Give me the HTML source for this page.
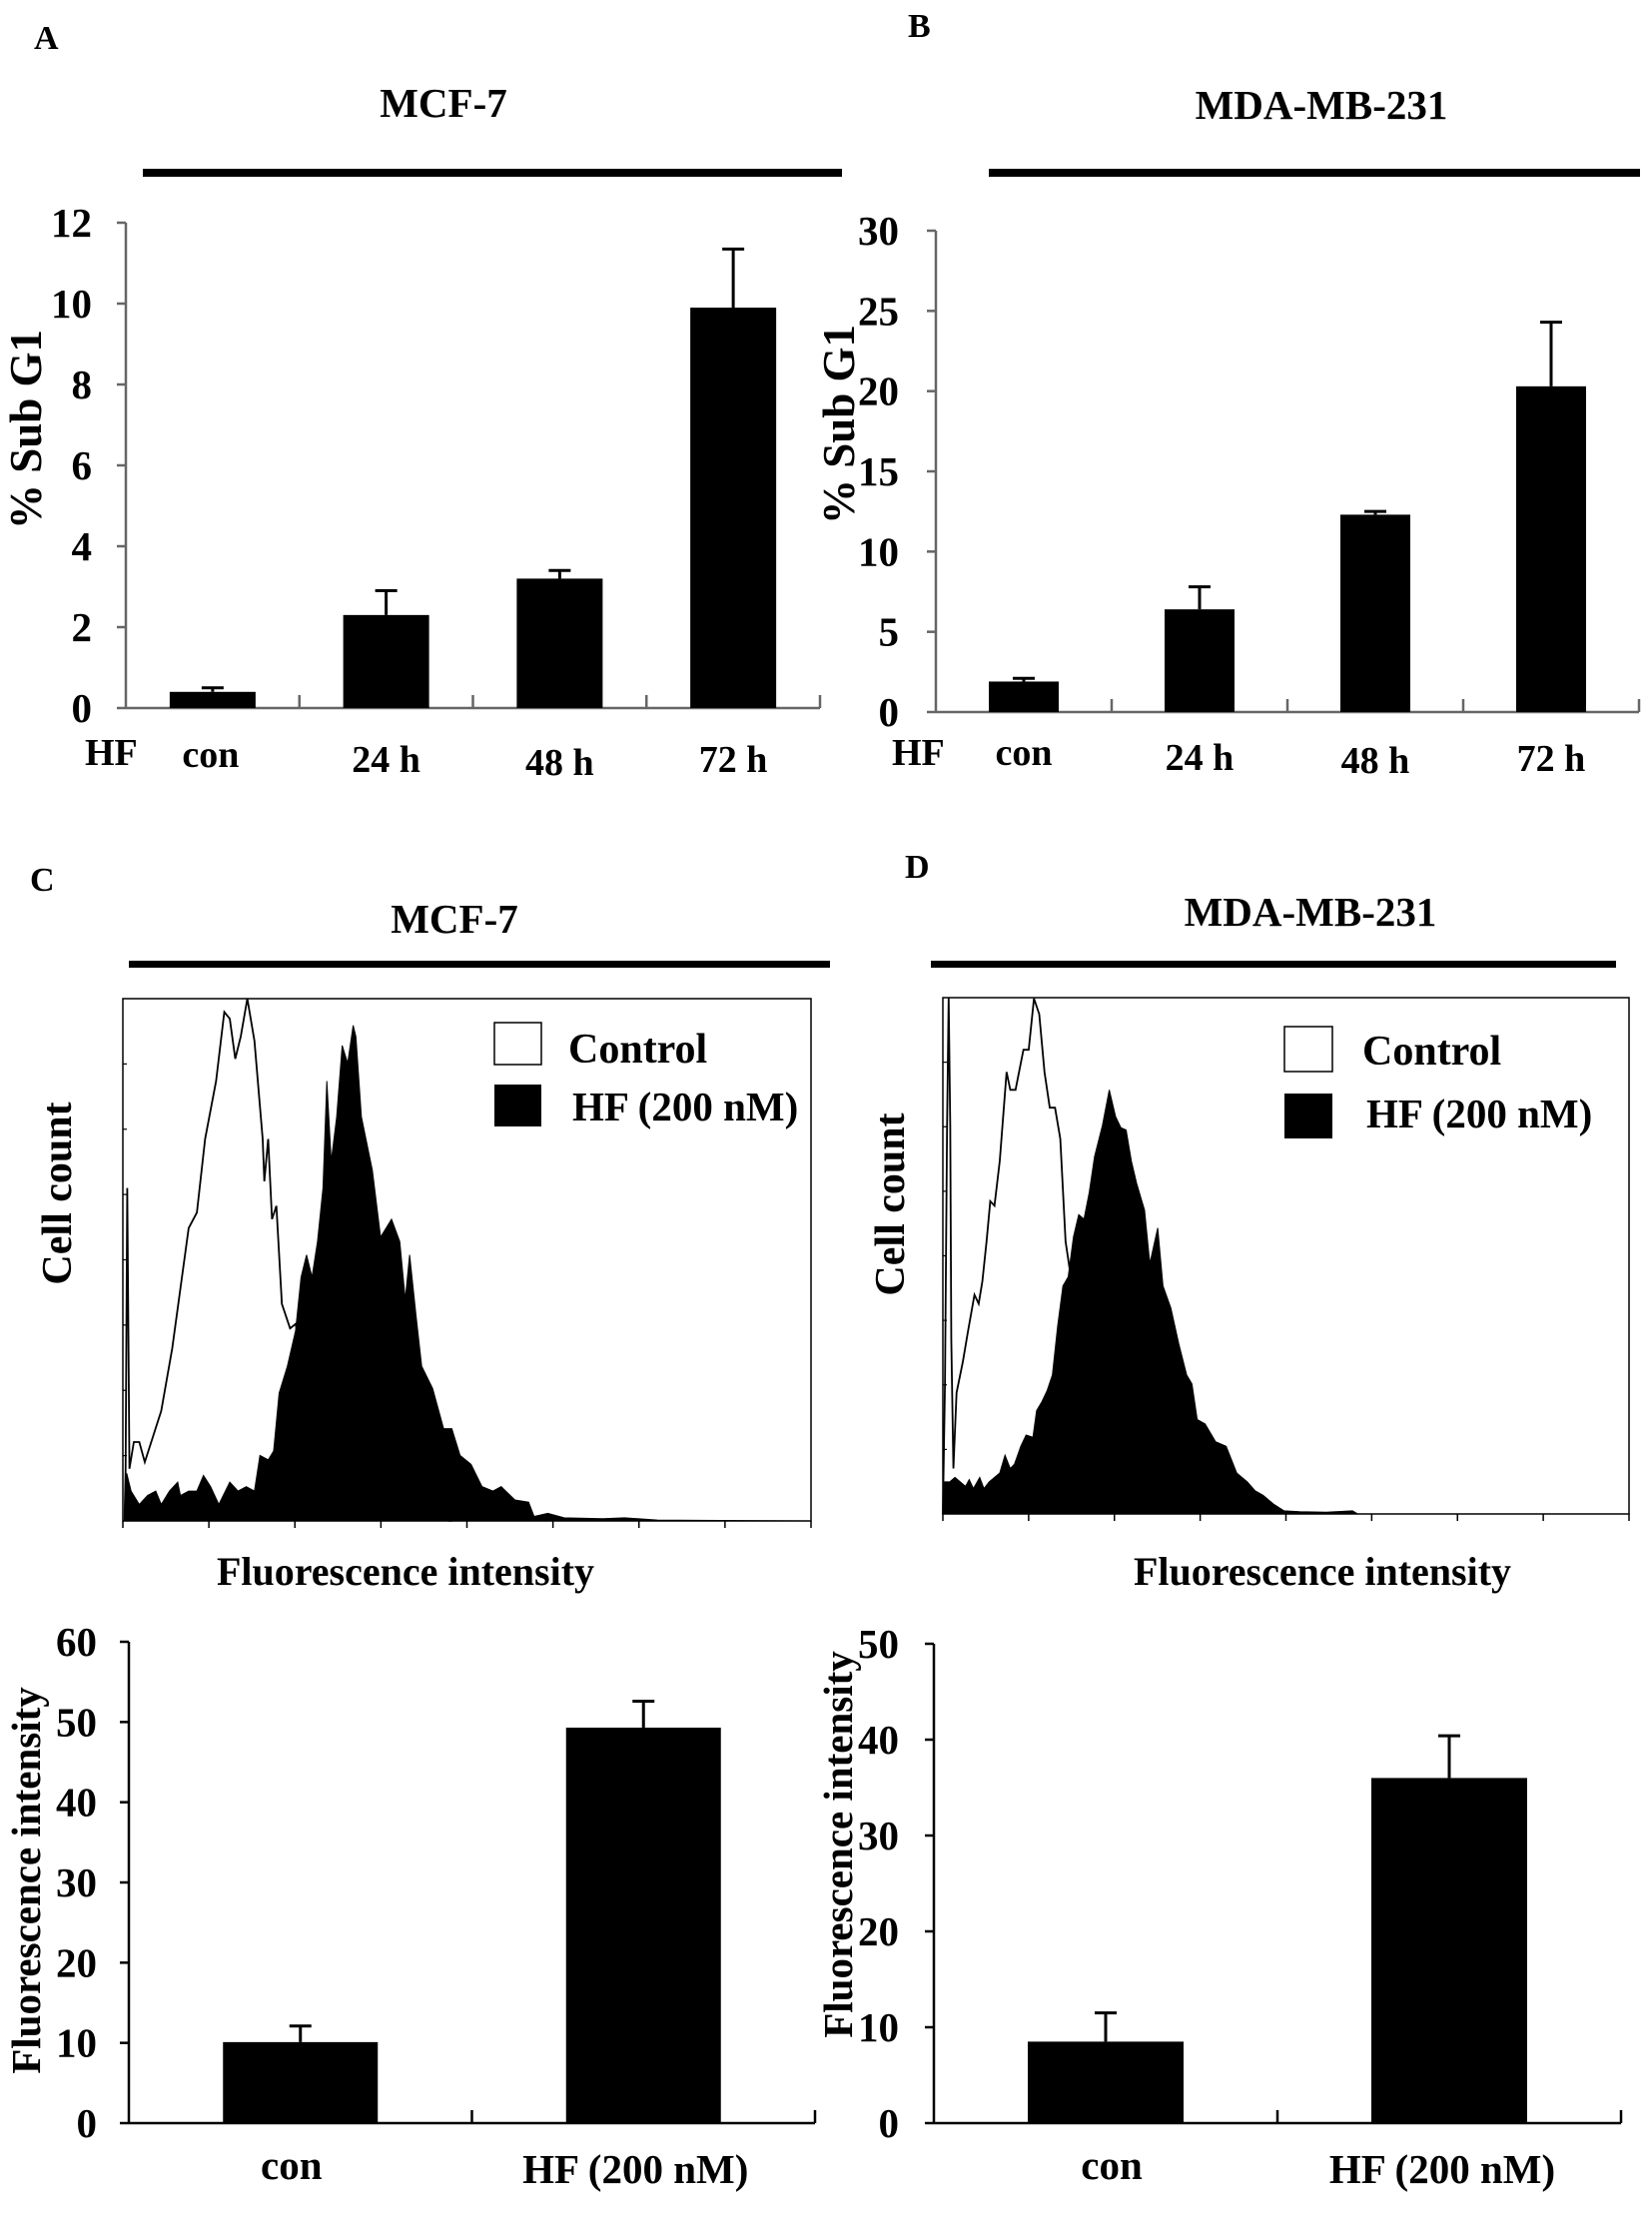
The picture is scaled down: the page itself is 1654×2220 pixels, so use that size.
<!DOCTYPE html>
<html><head><meta charset="utf-8"><style>
html,body{margin:0;padding:0;background:#fff;}
svg{display:block;font-family:"Liberation Serif",serif;font-weight:bold;}
</style></head><body>
<svg id="fig" width="1654" height="2220" viewBox="0 0 1654 2220" xmlns="http://www.w3.org/2000/svg">
<rect x="0" y="0" width="1654" height="2220" fill="#fff"/>
<text x="34" y="49" font-size="34">A</text>
<text x="909" y="37" font-size="34">B</text>
<text x="30" y="892" font-size="34">C</text>
<text x="906" y="879" font-size="34">D</text>
<text x="444" y="117" font-size="41" text-anchor="middle">MCF-7</text>
<rect x="143" y="169" width="700" height="8" fill="#000"/>
<text x="1323" y="119" font-size="41" text-anchor="middle">MDA-MB-231</text>
<rect x="990" y="169" width="652" height="8" fill="#000"/>
<text x="455" y="934" font-size="41" text-anchor="middle">MCF-7</text>
<rect x="129" y="962" width="702" height="7" fill="#000"/>
<text x="1312" y="927" font-size="41" text-anchor="middle">MDA-MB-231</text>
<rect x="932" y="962" width="686" height="7" fill="#000"/>
<text transform="translate(41,430) rotate(-90)" font-size="45" text-anchor="middle">% Sub G1</text>
<text transform="translate(855,425) rotate(-90)" font-size="45" text-anchor="middle">% Sub G1</text>
<text transform="translate(71,1195) rotate(-90)" font-size="42" text-anchor="middle">Cell count</text>
<text transform="translate(905,1206) rotate(-90)" font-size="42" text-anchor="middle">Cell count</text>
<text transform="translate(40,1883) rotate(-90)" font-size="41" text-anchor="middle">Fluorescence intensity</text>
<text transform="translate(853,1847) rotate(-90)" font-size="41" text-anchor="middle">Fluorescence intensity</text>
<text x="406" y="1587" font-size="40" text-anchor="middle">Fluorescence intensity</text>
<text x="1324" y="1587" font-size="40" text-anchor="middle">Fluorescence intensity</text>
<text x="85" y="766" font-size="38">HF</text>
<text x="893" y="766" font-size="38">HF</text>
<rect x="495" y="1024" width="47" height="42" fill="#fff" stroke="#000" stroke-width="1.5"/>
<text x="569" y="1064" font-size="42">Control</text>
<rect x="495" y="1086" width="47" height="42" fill="#000"/>
<text x="573" y="1122" font-size="41">HF (200 nM)</text>
<rect x="1286" y="1028" width="48" height="45" fill="#fff" stroke="#000" stroke-width="1.5"/>
<text x="1364" y="1066" font-size="42">Control</text>
<rect x="1286" y="1095" width="48" height="45" fill="#000"/>
<text x="1368" y="1129" font-size="41">HF (200 nM)</text>
<g id="plots"></g>
</svg>
<script>
const timeCats = ['con', '24 h', '48 h', '72 h'];
const aVals = [0.4, 2.3, 3.2, 9.9];
const aErr = [0.1, 0.6, 0.2, 1.45];
const aTicks = [0, 2, 4, 6, 8, 10, 12];
const bVals = [1.9, 6.4, 12.3, 20.3];
const bErr = [0.2, 1.4, 0.2, 4.0];
const bTicks = [0, 5, 10, 15, 20, 25, 30];
const doseCats = ['con', 'HF (200 nM)'];
const cVals = [10.1, 49.3];
const cErr = [2.0, 3.3];
const cTicks = [0, 10, 20, 30, 40, 50, 60];
const dVals = [8.5, 36.0];
const dErr = [3.0, 4.4];
const dTicks = [0, 10, 20, 30, 40, 50];
const cCtrlX = [3,5,8,12,20,30,40,70,90,120,135,150,170,185,195,205,215,227,240,255,258,265,272,280,290,305,315,340,380,420,500,600];
const cCtrlY = [0,117,747,117,177,177,132,247,387,657,692,857,987,1142,1127,1037,1087,1172,1077,857,762,857,677,707,487,432,442,300,150,60,10,0];
const cHfX = [3,7,15,30,45,60,70,85,100,105,120,135,147,160,175,195,210,225,240,250,265,275,285,300,315,325,335,345,355,365,372,380,390,400,410,420,425,435,455,470,490,505,515,523,535,545,565,585,600,615,635,655,675,690,715,740,750,775,805,875,915,975,1255];
const cHfY = [0,107,67,37,57,67,37,67,87,57,67,67,102,77,37,87,67,77,67,147,137,157,287,347,427,547,597,547,627,747,987,807,907,1067,1027,1112,1087,907,787,637,677,627,497,597,457,347,297,207,207,147,127,77,67,77,47,42,10,17,7,5,7,2,0];
const dCtrlX = [0,4,8,11,14,16,20,26,38,48,60,68,75,83,90,98,108,121,128,138,153,163,173,183,193,203,213,223,233,243,270,320,380,450];
const dCtrlY = [0,292,872,1159,872,392,102,272,342,412,492,472,522,612,702,692,792,992,952,952,1042,1042,1157,1122,992,912,912,842,612,532,350,150,40,0];
const dHfX = [0,3,13,23,33,43,50,58,70,78,88,108,118,128,136,148,158,171,178,188,198,208,218,228,238,248,258,268,278,288,303,316,328,338,348,358,368,383,393,408,418,433,448,463,473,483,498,518,538,558,578,593,608,628,648,678,728,778,788,1303];
const dHfY = [0,72,72,82,72,62,77,57,82,57,72,92,132,102,112,152,177,172,232,252,277,312,422,512,532,622,672,662,722,802,872,952,892,867,862,792,742,682,562,642,512,462,382,312,292,212,202,162,152,92,72,52,42,22,7,5,4,7,0,0];

const NS = 'http://www.w3.org/2000/svg';
const root = document.getElementById('plots');
function mk(tag, attrs, parent) {
  const e = document.createElementNS(NS, tag);
  for (const k in attrs) e.setAttribute(k, attrs[k]);
  (parent || root).appendChild(e);
  return e;
}
function linScale(d0, d1, r0, r1) { return v => r0 + (v - d0) * (r1 - r0) / (d1 - d0); }

function barChart(o) {
  const g = mk('g', {});
  
  
  const y = linScale(0, o.ticks[o.ticks.length - 1], o.y0, o.y1);
  const n = o.cats.length;
  const band = (o.x1 - o.x0) / n;
  const xc = i => o.x0 + band * (i + 0.5);
  const ya = mk('line', {x1: o.x0, y1: o.y0, x2: o.x0, y2: o.y1, stroke: o.axisColor, 'stroke-width': 2.5}, g);
  
  
  o.ticks.forEach(t => {
    const tk = mk('line', {x1: o.x0 - 9, y1: y(t), x2: o.x0, y2: y(t), stroke: o.axisColor, 'stroke-width': 2.5}, g);
    
    
    const tl = mk('text', {x: o.x0 - o.labelGap, y: y(t) + 14, 'font-size': 41, 'text-anchor': 'end'}, g);
    tl.textContent = t;
    
    
  });
  const xa = mk('line', {x1: o.x0, y1: o.y0, x2: o.x1, y2: o.y0, stroke: o.axisColor, 'stroke-width': 2.5}, g);
  
  
  for (let i = 1; i <= n; i++) {
    const xt = mk('line', {x1: o.x0 + band * i, y1: o.y0, x2: o.x0 + band * i, y2: o.y0 - 13, stroke: o.axisColor, 'stroke-width': 2.5}, g);
    
    
  }
  o.vals.forEach((v, i) => {
    const b = mk('rect', {x: xc(i) - o.bw / 2, y: y(v), width: o.bw, height: o.y0 - y(v), fill: '#000'}, g);
    
    
    const top = y(v + o.err[i]);
    const el = mk('line', {x1: xc(i), y1: y(v), x2: xc(i), y2: top, stroke: '#000', 'stroke-width': 3}, g);
    
    
    const cp = mk('line', {x1: xc(i) - 11, y1: top, x2: xc(i) + 11, y2: top, stroke: '#000', 'stroke-width': 3}, g);
    
    
    const lb = mk('text', {x: xc(i) + o.catShift[i], y: o.catY[i], 'font-size': o.catSize, 'text-anchor': 'middle'}, g);
    lb.textContent = o.cats[i];
    
    
  });
}

function histogram(o) {
  const g = mk('g', {});
  
  
  const x = linScale(0, o.xMax, o.bx0, o.bx1);
  const y = linScale(0, o.yMax, o.by1, o.by0);
  let d = 'M' + x(o.hfX[0]) + ' ' + y(0);
  o.hfX.forEach((v, i) => { d += ' L' + x(v) + ' ' + y(o.hfY[i]); });
  d += ' L' + x(o.xMax) + ' ' + y(0) + ' Z';
  let c = '';
  o.ctrlX.forEach((v, i) => { c += (i ? ' L' : 'M') + x(v) + ' ' + y(o.ctrlY[i]); });
  const cl = mk('path', {d: c, fill: 'none', stroke: '#000', 'stroke-width': 1.8}, g);
  
  
  const hf = mk('path', {d: d, fill: '#000', stroke: '#000', 'stroke-width': 1}, g);
  
  
  const box = mk('rect', {x: o.bx0, y: o.by0, width: o.bx1 - o.bx0, height: o.by1 - o.by0, fill: 'none', stroke: '#000', 'stroke-width': 1.5}, g);
  
  
  for (let k = 0; k <= 8; k++) {
    const xx = o.bx0 + (o.bx1 - o.bx0) * k / 8;
    const t = mk('line', {x1: xx, y1: o.by1, x2: xx, y2: o.by1 + 7, stroke: '#000', 'stroke-width': 1.5}, g);
    
    
  }
  for (let k = 1; k <= 7; k++) {
    const yy = o.by1 - (o.by1 - o.by0) * k / 8;
    const t = mk('line', {x1: o.bx0, y1: yy, x2: o.bx0 + 4, y2: yy, stroke: '#000', 'stroke-width': 1.2}, g);
    
    
  }
}

barChart({name: 'chart-a-mcf7-subg1', cats: timeCats, vals: aVals, err: aErr, ticks: aTicks,
  x0: 126, x1: 821, y0: 709, y1: 223, bw: 86, axisColor: '#666', labelGap: 34,
  catShift: [-2, 0, 0, 0], catY: [768, 773, 776, 773], catSize: 38});
barChart({name: 'chart-b-mda-subg1', cats: timeCats, vals: bVals, err: bErr, ticks: bTicks,
  x0: 937, x1: 1641, y0: 713, y1: 231, bw: 70, axisColor: '#666', labelGap: 37,
  catShift: [0, 0, 0, 0], catY: [766, 771, 774, 772], catSize: 38});
barChart({name: 'chart-c-mcf7-fluorescence', cats: doseCats, vals: cVals, err: cErr, ticks: cTicks,
  x0: 129, x1: 816, y0: 2126, y1: 1644, bw: 155, axisColor: '#000', labelGap: 32,
  catShift: [-9, -8], catY: [2182, 2186], catSize: 41});
barChart({name: 'chart-d-mda-fluorescence', cats: doseCats, vals: dVals, err: dErr, ticks: dTicks,
  x0: 935, x1: 1623, y0: 2126, y1: 1646, bw: 156, axisColor: '#000', labelGap: 35,
  catShift: [6, -7], catY: [2182, 2186], catSize: 41});
histogram({name: 'histogram-c-mcf7', ctrlX: cCtrlX, ctrlY: cCtrlY, hfX: cHfX, hfY: cHfY,
  xMax: 1255, yMax: 1172, bx0: 123, bx1: 812, by0: 1000, by1: 1523});
histogram({name: 'histogram-d-mda', ctrlX: dCtrlX, ctrlY: dCtrlY, hfX: dHfX, hfY: dHfY,
  xMax: 1303, yMax: 1159, bx0: 944, bx1: 1631, by0: 999, by1: 1516});
</script>
</body></html>
